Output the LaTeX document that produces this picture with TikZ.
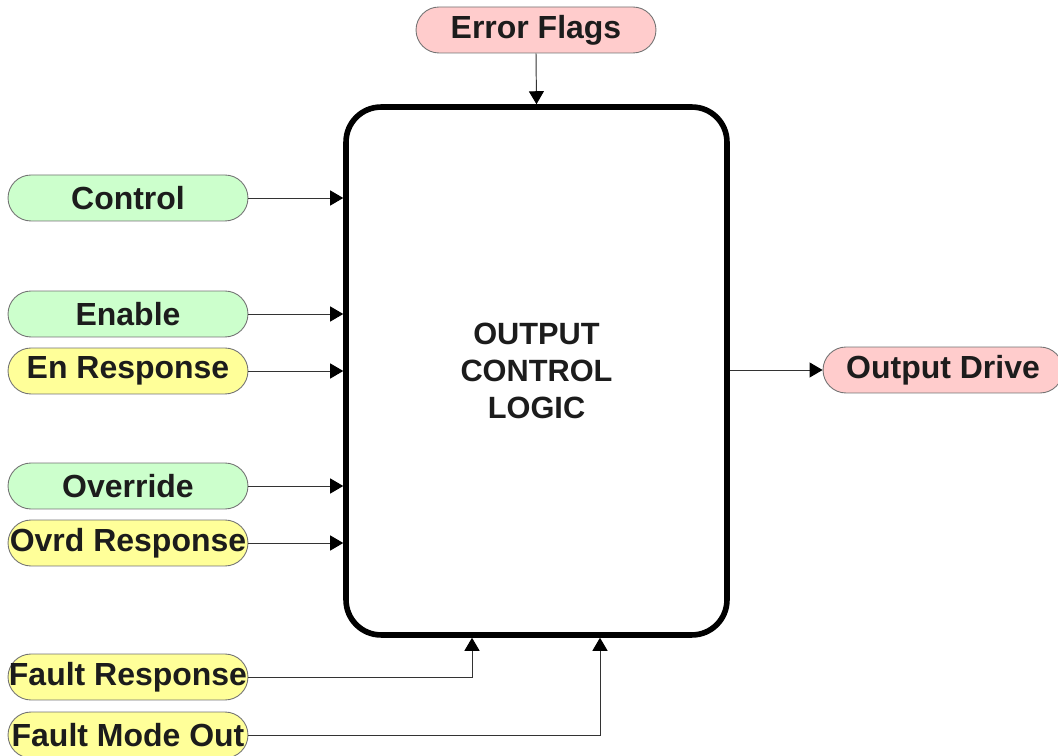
\documentclass[tikz,border=0pt]{standalone}
\usepackage{fontspec}
\setmainfont{Liberation Sans}
\usetikzlibrary{arrows.meta,calc}
\definecolor{sigGreen}{HTML}{CCFFCC}
\definecolor{sigYellow}{HTML}{FFFF99}
\definecolor{sigPink}{HTML}{FFCCCC}
\definecolor{sigText}{HTML}{1C1C1C}

\begin{document}
\begin{tikzpicture}[x=0.02cm,y=-0.02cm,
    signal/.style={draw=black!55,line width=0.5pt,rounded corners=0.46cm,
        minimum width=4.8cm,minimum height=0.92cm,inner sep=0pt,
        font=\fontsize{18.2}{20}\selectfont\bfseries,text=sigText},
    logicbox/.style={draw,line width=3.2pt,rounded corners=0.7cm,
        minimum width=7.62cm,minimum height=10.56cm,align=center,
        font=\fontsize{17.5}{21}\selectfont\bfseries,text=sigText},
    wire/.style={draw=black!80,line width=0.55pt,
        -{Triangle[length=0.26cm,width=0.3cm,color=black]}}]
    \useasboundingbox (0,0) rectangle (1058,756);
    \node[logicbox] (logic) at (536.5,371) {OUTPUT\\CONTROL\\LOGIC};
    \node[signal,fill=sigPink] (err) at (536,30) {Error Flags};
    \node[signal,fill=sigGreen] (ctl) at (128,198) {Control};
    \node[signal,fill=sigGreen] (ena) at (128,314) {Enable};
    \node[signal,fill=sigYellow] (enr) at (128,371) {En Response};
    \node[signal,fill=sigGreen] (ovr) at (128,486) {Override};
    \node[signal,fill=sigYellow] (ovrr) at (128,543) {Ovrd Response};
    \node[signal,fill=sigYellow] (fltr) at (128,677) {Fault Response};
    \node[signal,fill=sigYellow] (fmo) at (128,735) {Fault Mode Out};
    \node[signal,fill=sigPink] (out) at (943,370) {Output Drive};
    % inputs
    \draw[wire] (err.south) -- (logic.north);
    \foreach \s in {ctl,ena,enr,ovr,ovrr}
        \draw[wire] (\s.east) -- (\s.east -| logic.west);
    \draw[wire] (fltr.east) -| ([xshift=-1.29cm]logic.south);
    \draw[wire] (fmo.east) -| ([xshift=1.27cm]logic.south);
    % output
    \draw[wire] (logic.east |- out.west) -- (out.west);
\end{tikzpicture}
\end{document}
